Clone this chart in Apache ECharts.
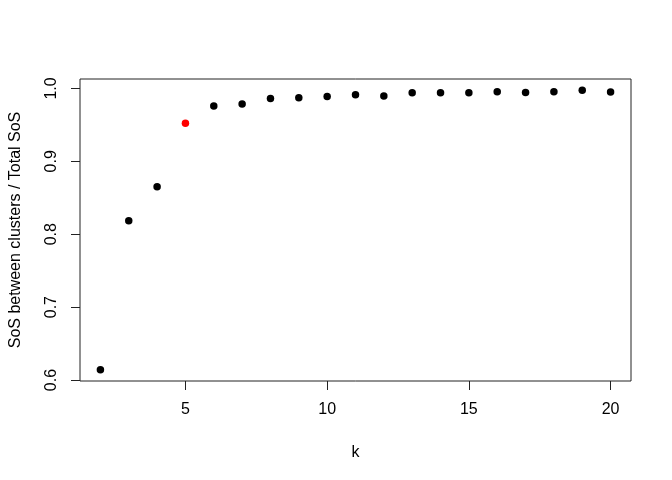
<!DOCTYPE html>
<html>
<head>
<meta charset="utf-8">
<script src="https://cdn.jsdelivr.net/npm/echarts@6/dist/echarts.min.js"></script>
<style>html,body{margin:0;padding:0;background:#fff}#c{width:672px;height:480px}</style>
</head>
<body>
<div id="c"></div>
<script>
const kValues = [2,3,4,5,6,7,8,9,10,11,12,13,14,15,16,17,18,19,20];
const sosRatio = [0.614,0.8184,0.8653,0.9522,0.9758,0.9786,0.9863,0.9873,0.9891,0.9914,0.9895,0.9941,0.9941,0.9941,0.9955,0.9945,0.9955,0.9976,0.9950];
const chosenK = 5;
const xTicks = [5,10,15,20];
const yTicks = [0.6,0.7,0.8,0.9,1.0];

const font = '"Liberation Sans", Arial, Helvetica, sans-serif';
const chart = echarts.init(document.getElementById('c'), null, {renderer:'canvas'});
const data = kValues.map((k,i)=>({
  value:[k, sosRatio[i]],
  itemStyle:{color: k===chosenK ? '#ff0000' : '#000000', opacity:1}
}));
const xr = [Math.min(...kValues), Math.max(...kValues)];
const yr = [Math.min(...sosRatio), Math.max(...sosRatio)];
const xpad = (xr[1]-xr[0])*0.04, ypad = (yr[1]-yr[0])*0.04;
chart.setOption({
  animation:false,
  backgroundColor:'#ffffff',
  grid:{left:78,right:41,top:79,bottom:99,show:true,borderColor:'#222',borderWidth:1,backgroundColor:'transparent'},
  xAxis:{
    type:'value', min:xr[0]-xpad, max:xr[1]+xpad,
    name:'k', nameLocation:'middle', nameGap:64,
    nameTextStyle:{fontFamily:font,fontSize:16,color:'#000'},
    axisLine:{show:false},
    splitLine:{show:false},
    axisTick:{show:true,inside:false,length:9,customValues:xTicks,lineStyle:{color:'#222',width:1}},
    axisLabel:{show:true,margin:21,customValues:xTicks,fontFamily:font,fontSize:16,color:'#000',formatter:v=>String(v)}
  },
  yAxis:{
    type:'value', min:yr[0]-ypad, max:yr[1]+ypad,
    name:'SoS between clusters / Total SoS', nameLocation:'middle', nameGap:56, nameRotate:90,
    nameTextStyle:{fontFamily:font,fontSize:16,color:'#000'},
    axisLine:{show:false},
    splitLine:{show:false},
    axisTick:{show:true,inside:false,length:9,customValues:yTicks,lineStyle:{color:'#222',width:1}},
    axisLabel:{show:true,margin:20,rotate:90,customValues:yTicks,fontFamily:font,fontSize:16,color:'#000',formatter:v=>v.toFixed(1)}
  },
  series:[{
    type:'scatter', symbol:'circle', symbolSize:7.5, itemStyle:{opacity:1}, data:data
  }]
});
</script>
</body>
</html>
